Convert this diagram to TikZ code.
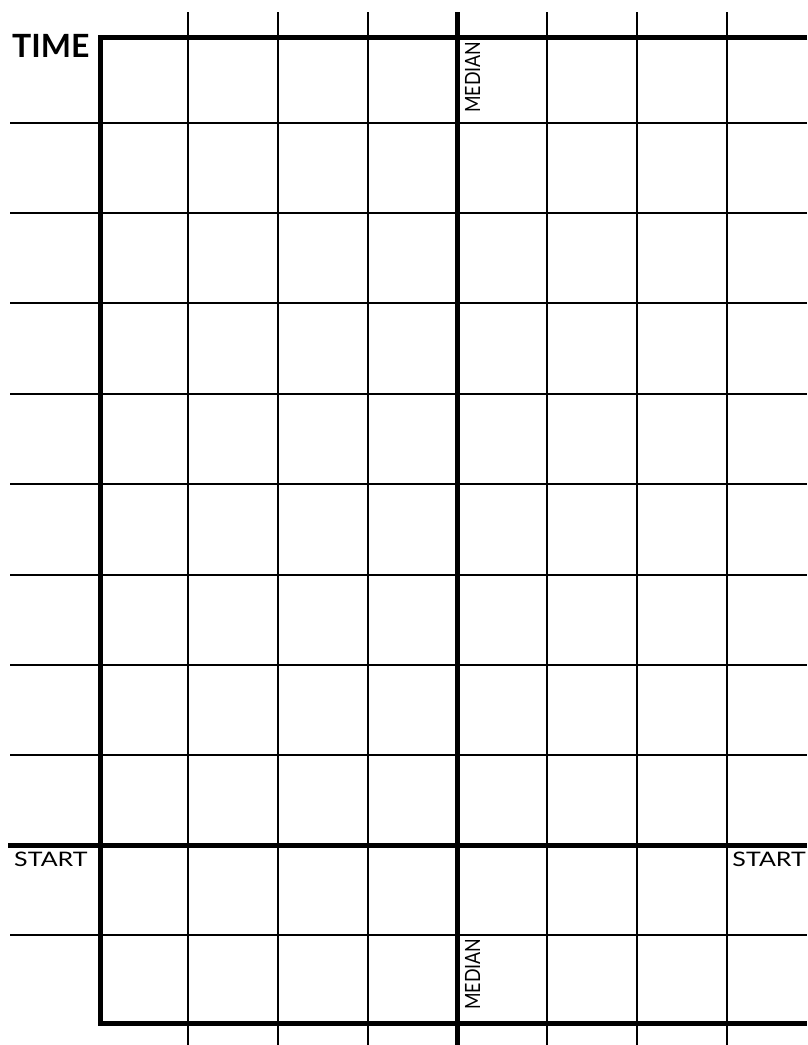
\documentclass[tikz,border=0pt]{standalone}
\usepackage{fontspec}
\setmainfont{Lato}
\newfontfamily\startfont[FakeStretch=1.25]{Lato}
\newfontfamily\medianfont[FakeStretch=0.85]{Lato}
\usetikzlibrary{positioning}

\begin{document}
\begin{tikzpicture}[
    x=1pt, y=-1pt,
    gridline/.style={line width=1.2pt, black},
    boldline/.style={line width=5pt, black},
    title/.style={font=\fontsize{32}{32}\selectfont\bfseries, inner sep=0pt},
    label/.style={font=\startfont\fontsize{20}{20}\selectfont, inner sep=0pt},
    medianlabel/.style={font=\medianfont\fontsize{21}{21}\selectfont, inner sep=0pt, rotate=90},
]
    \useasboundingbox (0,0) rectangle (807,1045);

    % thin grid
    \foreach \x in {188,278,368,547,637,727}
        \draw[gridline] (\x,12) -- (\x,1045);
    \foreach \y in {123,213,303,394,484,575,665,755,935}
        \draw[gridline] (10,\y) -- (807,\y);

    % frame, start line and median
    \draw[boldline] (807,37) -- (100,37) -- (100,1023) -- (807,1023);
    \draw[boldline] (8,845) -- (807,845);
    \draw[boldline] (457,12) -- (457,1045);

    % labels
    \node[title, anchor=base west] (time) at (12,57) {TIME};
    \node[label, anchor=base west] (startl) at (14,866) {START};
    \node[label, anchor=base east] (startr) at (806,866) {START};
    \node[medianlabel, anchor=base west] (mediant) at (480,113) {MEDIAN};
    \node[medianlabel, anchor=base west] (medianb) at (480,1010) {MEDIAN};
\end{tikzpicture}
\end{document}
